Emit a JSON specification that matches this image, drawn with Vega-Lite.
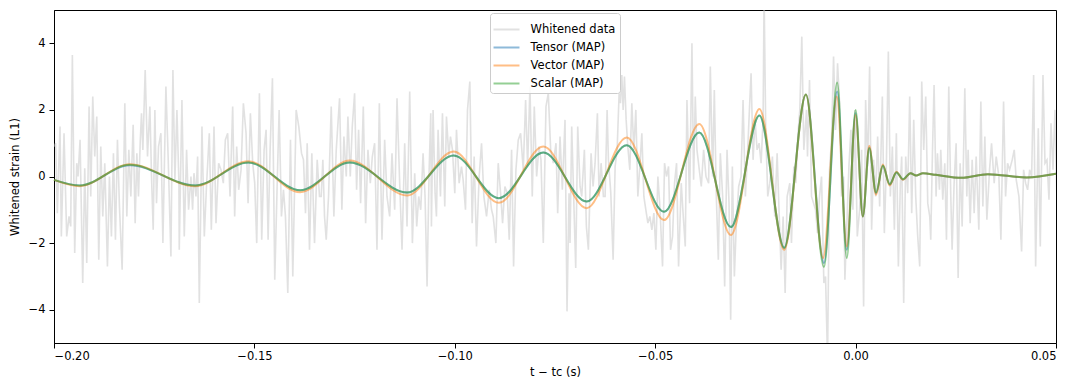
{
"$schema": "https://vega.github.io/schema/vega-lite/v6.json",
"width": 1002, "height": 333,
"autosize": {"type": "none"},
"padding": {"left": 54, "top": 10, "right": 17, "bottom": 42},
"background": "white",
"config": {
 "view": {"stroke": "#000", "strokeWidth": 1},
 "font": "DejaVu Sans",
 "axis": {"grid": false, "domainColor": "#000", "tickColor": "#000", "tickSize": 5, "labelFont": "DejaVu Sans", "labelFontSize": 11.5, "labelColor": "#000", "titleFont": "DejaVu Sans", "titleFontSize": 11.5, "titleFontWeight": "normal", "titleColor": "#000"},
 "legend": {"labelFont": "DejaVu Sans", "labelFontSize": 11.5, "labelColor": "#000"}
},
"datasets": {
 "noise": [
{"t":-0.2,"v":0.9},{"t":-0.19958,"v":1.0},{"t":-0.19917,"v":-1.1},{"t":-0.1985,"v":1.5},{"t":-0.19817,"v":-1.8},{"t":-0.1975,"v":1.3},{"t":-0.19683,"v":-1.8},{"t":-0.19625,"v":-1.2},{"t":-0.19583,"v":-1.5},{"t":-0.19542,"v":3.65},{"t":-0.19483,"v":-2.3},{"t":-0.19433,"v":0.4},{"t":-0.194,"v":0.0},{"t":-0.1935,"v":1.1},{"t":-0.19283,"v":-3.2},{"t":-0.19233,"v":0.25},{"t":-0.19183,"v":-2.6},{"t":-0.19125,"v":2.1},{"t":-0.19083,"v":-0.6},{"t":-0.19033,"v":2.4},{"t":-0.18983,"v":0.6},{"t":-0.18933,"v":1.8},{"t":-0.18883,"v":-2.5},{"t":-0.18833,"v":0.9},{"t":-0.18783,"v":-1.2},{"t":-0.18733,"v":0.4},{"t":-0.18667,"v":-2.7},{"t":-0.18617,"v":0.0},{"t":-0.18567,"v":-1.8},{"t":-0.18517,"v":0.7},{"t":-0.18467,"v":-1.9},{"t":-0.18417,"v":1.1},{"t":-0.18367,"v":-0.9},{"t":-0.183,"v":-2.8},{"t":-0.18233,"v":2.2},{"t":-0.18183,"v":-1.2},{"t":-0.18133,"v":0.8},{"t":-0.18083,"v":-0.6},{"t":-0.18025,"v":1.55},{"t":-0.17975,"v":-1.4},{"t":-0.17933,"v":0.7},{"t":-0.17892,"v":-0.6},{"t":-0.1785,"v":1.0},{"t":-0.17817,"v":1.9},{"t":-0.17783,"v":0.8},{"t":-0.17725,"v":3.2},{"t":-0.17667,"v":0.6},{"t":-0.17608,"v":2.1},{"t":-0.17567,"v":0.0},{"t":-0.17525,"v":-1.6},{"t":-0.17483,"v":2.0},{"t":-0.17442,"v":-0.8},{"t":-0.17392,"v":0.9},{"t":-0.17333,"v":1.3},{"t":-0.17283,"v":-2.0},{"t":-0.17208,"v":2.7},{"t":-0.1715,"v":0.5},{"t":-0.17083,"v":-2.4},{"t":-0.17033,"v":3.2},{"t":-0.16983,"v":-0.1},{"t":-0.16933,"v":2.0},{"t":-0.16883,"v":-0.2},
{"t":-0.16875,"v":-2.2},{"t":-0.16808,"v":2.3},{"t":-0.1675,"v":-1.8},{"t":-0.16692,"v":0.8},{"t":-0.16642,"v":-1.0},{"t":-0.16583,"v":0.0},{"t":-0.16542,"v":-1.0},{"t":-0.16508,"v":0.1},{"t":-0.16458,"v":-0.6},{"t":-0.16417,"v":0.6},{"t":-0.16375,"v":-3.8},{"t":-0.16308,"v":1.5},{"t":-0.1625,"v":-1.8},{"t":-0.16192,"v":-0.2},{"t":-0.16125,"v":1.3},{"t":-0.16075,"v":-1.6},{"t":-0.16008,"v":1.5},{"t":-0.15958,"v":-1.4},{"t":-0.15892,"v":0.4},{"t":-0.15833,"v":0.2},{"t":-0.15775,"v":-0.2},{"t":-0.15725,"v":1.1},{"t":-0.15667,"v":1.3},{"t":-0.15608,"v":-0.6},{"t":-0.15542,"v":2.1},{"t":-0.15492,"v":-1.2},{"t":-0.15442,"v":0.9},{"t":-0.15392,"v":-0.4},{"t":-0.15333,"v":0.2},{"t":-0.15275,"v":2.2},{"t":-0.15208,"v":1.3},{"t":-0.15158,"v":-0.8},{"t":-0.151,"v":1.9},{"t":-0.15042,"v":0.4},{"t":-0.14992,"v":-0.2},{"t":-0.14942,"v":-2.0},{"t":-0.14875,"v":2.5},{"t":-0.14817,"v":-1.9},{"t":-0.14758,"v":0.8},{"t":-0.14708,"v":1.4},{"t":-0.14658,"v":-1.9},{"t":-0.14608,"v":0.8},{"t":-0.1455,"v":2.95},{"t":-0.14492,"v":-3.1},{"t":-0.14433,"v":-0.3},{"t":-0.14383,"v":2.0},{"t":-0.14325,"v":-1.2},{"t":-0.14275,"v":-0.4},{"t":-0.14225,"v":-1.2},{"t":-0.14167,"v":-3.5},{"t":-0.141,"v":1.1},{"t":-0.14042,"v":-3.0},{"t":-0.13958,"v":2.0},{"t":-0.13892,"v":1.5},{"t":-0.13825,"v":0.7},{"t":-0.13775,"v":0.5},{"t":-0.13725,"v":-1.1},
{"t":-0.13683,"v":1.0},{"t":-0.13625,"v":-2.2},{"t":-0.13567,"v":0.7},{"t":-0.135,"v":-2.0},{"t":-0.13433,"v":0.5},{"t":-0.13375,"v":-0.6},{"t":-0.13333,"v":-0.6},{"t":-0.13292,"v":0.5},{"t":-0.1325,"v":-1.2},{"t":-0.13208,"v":-1.9},{"t":-0.1315,"v":-0.6},{"t":-0.13083,"v":2.1},{"t":-0.13017,"v":-1.2},{"t":-0.12958,"v":0.8},{"t":-0.12875,"v":2.35},{"t":-0.12817,"v":-1.0},{"t":-0.12767,"v":1.2},{"t":-0.12708,"v":0.0},{"t":-0.12667,"v":1.8},{"t":-0.12608,"v":0.0},{"t":-0.12558,"v":1.5},{"t":-0.125,"v":2.5},{"t":-0.1245,"v":-0.4},{"t":-0.124,"v":1.4},{"t":-0.1235,"v":-0.8},{"t":-0.12283,"v":2.1},{"t":-0.12225,"v":-1.4},{"t":-0.12167,"v":0.8},{"t":-0.12108,"v":-0.2},{"t":-0.12058,"v":0.6},{"t":-0.12,"v":1.0},{"t":-0.11942,"v":-2.2},{"t":-0.11883,"v":2.2},{"t":-0.11817,"v":-1.9},{"t":-0.1175,"v":1.1},{"t":-0.11692,"v":-0.6},{"t":-0.11625,"v":-1.2},{"t":-0.11567,"v":0.7},{"t":-0.115,"v":-1.0},{"t":-0.11442,"v":2.35},{"t":-0.11375,"v":-0.2},{"t":-0.11317,"v":-2.2},{"t":-0.1125,"v":1.0},{"t":-0.11192,"v":-1.5},{"t":-0.11125,"v":2.55},{"t":-0.11058,"v":-2.0},{"t":-0.11,"v":0.1},{"t":-0.1095,"v":-1.5},{"t":-0.109,"v":-0.6},{"t":-0.1085,"v":-1.0},{"t":-0.10792,"v":0.7},{"t":-0.10742,"v":-0.6},{"t":-0.10692,"v":-3.3},{"t":-0.10642,"v":0.1},{"t":-0.106,"v":1.9},
{"t":-0.10583,"v":-1.5},{"t":-0.10542,"v":2.0},{"t":-0.10492,"v":-0.5},{"t":-0.10458,"v":-1.2},{"t":-0.10417,"v":1.4},{"t":-0.10358,"v":-0.6},{"t":-0.10308,"v":1.9},{"t":-0.1025,"v":-0.9},{"t":-0.10208,"v":1.8},{"t":-0.1015,"v":0.6},{"t":-0.10108,"v":1.2},{"t":-0.10058,"v":0.8},{"t":-0.1,"v":-0.5},{"t":-0.09958,"v":1.4},{"t":-0.09892,"v":-0.2},{"t":-0.09833,"v":0.3},{"t":-0.09792,"v":-0.1},{"t":-0.09733,"v":-1.0},{"t":-0.09683,"v":2.0},{"t":-0.09625,"v":2.85},{"t":-0.09567,"v":-1.4},{"t":-0.09517,"v":0.6},{"t":-0.09458,"v":-2.1},{"t":-0.09392,"v":0.0},{"t":-0.09333,"v":1.0},{"t":-0.09275,"v":-0.6},{"t":-0.09208,"v":-1.2},{"t":-0.09142,"v":-0.4},{"t":-0.09083,"v":-1.0},{"t":-0.09042,"v":-1.2},{"t":-0.08975,"v":-2.0},{"t":-0.08917,"v":0.4},{"t":-0.08858,"v":-0.5},{"t":-0.08808,"v":-1.4},{"t":-0.0875,"v":-0.3},{"t":-0.08692,"v":-0.5},{"t":-0.08642,"v":-1.9},{"t":-0.08583,"v":0.8},{"t":-0.08533,"v":-2.7},{"t":-0.08475,"v":0.2},{"t":-0.08417,"v":1.1},{"t":-0.08358,"v":1.3},{"t":-0.08292,"v":0.2},{"t":-0.08233,"v":2.3},{"t":-0.08183,"v":0.3},{"t":-0.08125,"v":2.7},{"t":-0.08067,"v":-0.6},{"t":-0.08017,"v":2.1},{"t":-0.07958,"v":0.0},{"t":-0.079,"v":0.9},{"t":-0.0785,"v":0.5},{"t":-0.07792,"v":-2.0},{"t":-0.07725,"v":2.1},{"t":-0.07667,"v":2.5},{"t":-0.07608,"v":0.8},{"t":-0.07542,"v":0.4},{"t":-0.07475,"v":1.0},
{"t":-0.07433,"v":-1.1},{"t":-0.07375,"v":1.2},{"t":-0.07317,"v":-0.4},{"t":-0.0725,"v":1.7},{"t":-0.072,"v":-4.05},{"t":-0.0715,"v":-0.5},{"t":-0.07125,"v":-2.0},{"t":-0.07083,"v":1.5},{"t":-0.07025,"v":-1.0},{"t":-0.06983,"v":-2.75},{"t":-0.06933,"v":1.5},{"t":-0.06875,"v":-0.3},{"t":-0.06833,"v":-0.6},{"t":-0.06767,"v":0.8},{"t":-0.06717,"v":-1.5},{"t":-0.06667,"v":-2.2},{"t":-0.066,"v":0.7},{"t":-0.0655,"v":-0.3},{"t":-0.065,"v":0.4},{"t":-0.06442,"v":1.9},{"t":-0.064,"v":-0.6},{"t":-0.0635,"v":0.4},{"t":-0.06292,"v":-0.6},{"t":-0.0625,"v":-0.6},{"t":-0.062,"v":2.0},{"t":-0.06167,"v":0.5},{"t":-0.06108,"v":-0.5},{"t":-0.0605,"v":-2.5},{"t":-0.06,"v":0.3},{"t":-0.0595,"v":0.8},{"t":-0.059,"v":2.5},{"t":-0.05867,"v":2.2},{"t":-0.05833,"v":3.05},{"t":-0.058,"v":2.0},{"t":-0.05767,"v":3.0},{"t":-0.05725,"v":1.7},{"t":-0.05683,"v":0.9},{"t":-0.05633,"v":0.2},{"t":-0.05583,"v":2.2},{"t":-0.05533,"v":0.8},{"t":-0.05483,"v":2.0},{"t":-0.05433,"v":-0.6},{"t":-0.05383,"v":0.3},{"t":-0.05333,"v":1.3},{"t":-0.05283,"v":-0.6},{"t":-0.05233,"v":-1.0},{"t":-0.05183,"v":-1.4},{"t":-0.05133,"v":-1.2},{"t":-0.05083,"v":-1.6},{"t":-0.05033,"v":-1.1},{"t":-0.04983,"v":-2.2},{"t":-0.04933,"v":0.0},{"t":-0.04883,"v":-0.9},{"t":-0.04817,"v":-2.7},{"t":-0.04767,"v":0.4},{"t":-0.04717,"v":0.0},{"t":-0.04667,"v":0.3},{"t":-0.04617,"v":-2.2},{"t":-0.04567,"v":-1.8},{"t":-0.04517,"v":-0.2},{"t":-0.04467,"v":0.4},{"t":-0.04417,"v":-2.7},{"t":-0.0435,"v":-0.2},
{"t":-0.0431,"v":-1.0},{"t":-0.0425,"v":-2.1},{"t":-0.04208,"v":2.3},{"t":-0.04142,"v":-0.8},{"t":-0.04083,"v":4.0},{"t":-0.04042,"v":-0.1},{"t":-0.04,"v":2.4},{"t":-0.03958,"v":0.8},{"t":-0.039,"v":0.2},{"t":-0.0385,"v":-0.3},{"t":-0.03792,"v":0.8},{"t":-0.03733,"v":0.0},{"t":-0.03667,"v":-0.2},{"t":-0.03625,"v":3.3},{"t":-0.03567,"v":0.0},{"t":-0.03525,"v":2.6},{"t":-0.03475,"v":-0.6},{"t":-0.03425,"v":-2.5},{"t":-0.03375,"v":0.7},{"t":-0.03317,"v":-0.6},{"t":-0.03267,"v":-3.3},{"t":-0.03208,"v":0.8},{"t":-0.03158,"v":-0.8},{"t":-0.03117,"v":-4.3},{"t":-0.03075,"v":0.3},{"t":-0.03025,"v":-3.0},{"t":-0.02975,"v":-1.4},{"t":-0.02917,"v":-0.3},{"t":-0.02858,"v":0.0},{"t":-0.02808,"v":2.3},{"t":-0.0275,"v":-0.6},{"t":-0.02692,"v":0.8},{"t":-0.02642,"v":2.2},{"t":-0.02608,"v":3.1},{"t":-0.02558,"v":0.5},{"t":-0.02508,"v":1.7},{"t":-0.02458,"v":0.8},{"t":-0.02408,"v":1.0},{"t":-0.02358,"v":0.4},{"t":-0.02308,"v":1.7},{"t":-0.02283,"v":5.5},{"t":-0.02242,"v":1.4},{"t":-0.02192,"v":-0.6},{"t":-0.02142,"v":-0.2},{"t":-0.02075,"v":0.6},{"t":-0.02017,"v":-1.2},{"t":-0.01958,"v":0.7},{"t":-0.01908,"v":-1.1},{"t":-0.01858,"v":-2.8},{"t":-0.01808,"v":-1.2},{"t":-0.01758,"v":-3.5},{"t":-0.01708,"v":-0.6},{"t":-0.01642,"v":-0.2},{"t":-0.016,"v":-2.0},{"t":-0.01542,"v":0.3},{"t":-0.01492,"v":-0.2},{"t":-0.01442,"v":1.2},{"t":-0.01392,"v":2.0},{"t":-0.01342,"v":4.2},{"t":-0.01292,"v":0.8},{"t":-0.01225,"v":2.0},
{"t":-0.012,"v":0.6},{"t":-0.0115,"v":2.9},{"t":-0.011,"v":-0.6},{"t":-0.0105,"v":-0.8},{"t":-0.01,"v":-1.0},{"t":-0.0095,"v":-1.7},{"t":-0.009,"v":-0.6},{"t":-0.0085,"v":0.0},{"t":-0.00792,"v":-3.2},{"t":-0.0075,"v":-3.0},{"t":-0.007,"v":-5.5},{"t":-0.0065,"v":0.2},{"t":-0.006,"v":1.1},{"t":-0.0055,"v":3.6},{"t":-0.005,"v":1.4},{"t":-0.0045,"v":3.4},{"t":-0.004,"v":2.2},{"t":-0.0035,"v":-0.6},{"t":-0.003,"v":0.0},{"t":-0.00267,"v":-3.1},{"t":-0.00217,"v":-1.4},{"t":-0.00167,"v":0.3},{"t":-0.00117,"v":1.4},{"t":-0.00067,"v":-1.0},{"t":-0.00017,"v":2.0},{"t":0.00042,"v":-1.8},{"t":0.001,"v":-1.0},{"t":0.0015,"v":0.8},{"t":0.002,"v":-3.9},{"t":0.0025,"v":2.3},{"t":0.003,"v":0.3},{"t":0.0035,"v":3.3},{"t":0.004,"v":-1.6},{"t":0.0045,"v":0.5},{"t":0.005,"v":-0.6},{"t":0.0055,"v":1.2},{"t":0.006,"v":-0.9},{"t":0.00667,"v":2.4},{"t":0.00717,"v":-1.7},{"t":0.00767,"v":0.3},{"t":0.00817,"v":3.75},{"t":0.00867,"v":-0.6},{"t":0.00917,"v":0.9},{"t":0.00967,"v":-1.6},{"t":0.01017,"v":1.3},{"t":0.01067,"v":-2.7},{"t":0.01117,"v":-0.2},{"t":0.0115,"v":0.6},{"t":0.012,"v":-3.8},{"t":0.0125,"v":0.6},{"t":0.013,"v":-0.5},{"t":0.0135,"v":2.4},{"t":0.014,"v":-1.1},{"t":0.0145,"v":1.7},{"t":0.015,"v":-0.6},{"t":0.0155,"v":-1.8},{"t":0.016,"v":-2.7},{"t":0.0165,"v":2.85},{"t":0.017,"v":0.8},{"t":0.0175,"v":2.4},{"t":0.018,"v":-0.8},{"t":0.0185,"v":-1.2},
{"t":0.01875,"v":-1.9},{"t":0.01917,"v":0.7},{"t":0.01958,"v":2.75},{"t":0.02008,"v":-0.6},{"t":0.02042,"v":0.7},{"t":0.02092,"v":-0.4},{"t":0.02125,"v":0.8},{"t":0.02175,"v":-0.7},{"t":0.02225,"v":0.4},{"t":0.02267,"v":-1.9},{"t":0.02325,"v":2.7},{"t":0.02375,"v":-0.6},{"t":0.02408,"v":-2.2},{"t":0.02458,"v":-0.2},{"t":0.02508,"v":1.0},{"t":0.02558,"v":-3.05},{"t":0.02608,"v":0.4},{"t":0.02658,"v":-1.5},{"t":0.02725,"v":2.65},{"t":0.02775,"v":-0.6},{"t":0.02808,"v":0.8},{"t":0.02858,"v":-1.4},{"t":0.02908,"v":0.5},{"t":0.02958,"v":-1.1},{"t":0.03008,"v":0.6},{"t":0.03075,"v":-1.6},{"t":0.03125,"v":2.25},{"t":0.03175,"v":-0.9},{"t":0.03225,"v":1.2},{"t":0.03275,"v":-1.3},{"t":0.03342,"v":0.2},{"t":0.03392,"v":1.0},{"t":0.03458,"v":-0.2},{"t":0.03508,"v":0.6},{"t":0.03575,"v":0.0},{"t":0.03625,"v":-1.9},{"t":0.03692,"v":2.25},{"t":0.03742,"v":-0.6},{"t":0.03792,"v":0.4},{"t":0.03842,"v":0.2},{"t":0.03908,"v":0.5},{"t":0.03958,"v":0.8},{"t":0.04008,"v":-0.1},{"t":0.04075,"v":-0.6},{"t":0.04142,"v":-2.25},{"t":0.04192,"v":0.2},{"t":0.04242,"v":-0.2},{"t":0.04292,"v":-0.4},{"t":0.04342,"v":0.2},{"t":0.04392,"v":0.0},{"t":0.04442,"v":3.05},{"t":0.04492,"v":-2.7},{"t":0.04558,"v":1.45},{"t":0.04608,"v":-2.1},{"t":0.04675,"v":3.05},{"t":0.04725,"v":0.4},{"t":0.04775,"v":0.5},{"t":0.04825,"v":-0.7},{"t":0.04875,"v":1.6},{"t":0.04925,"v":0.2},{"t":0.04975,"v":2.0},{"t":0.05025,"v":-0.8}
 ],
 "tensor": [
{"t":-0.2,"v":-0.1},{"t":-0.1936,"v":-0.27},{"t":-0.1811,"v":0.34},{"t":-0.1648,"v":-0.27},{"t":-0.1515,"v":0.42},{"t":-0.1386,"v":-0.41},{"t":-0.1262,"v":0.42},{"t":-0.1119,"v":-0.48},{"t":-0.1003,"v":0.63},{"t":-0.089,"v":-0.65},{"t":-0.0779,"v":0.72},{"t":-0.0671,"v":-0.75},{"t":-0.0571,"v":0.94},{"t":-0.0478,"v":-1.06},{"t":-0.039,"v":1.32},{"t":-0.0311,"v":-1.52},{"t":-0.024,"v":1.83},{"t":-0.0178,"v":-2.14},{"t":-0.0124,"v":2.46},{"t":-0.0079,"v":-2.6},{"t":-0.0046,"v":2.55},{"t":-0.0022,"v":-2.2},{"t":0.0,"v":1.9},{"t":0.0018,"v":-1.2},{"t":0.0034,"v":0.87},{"t":0.0051,"v":-0.5},{"t":0.0068,"v":0.33},{"t":0.0085,"v":-0.24},{"t":0.0102,"v":0.13},{"t":0.0118,"v":-0.09},{"t":0.0137,"v":0.1},{"t":0.0151,"v":0.03},{"t":0.0168,"v":0.1},{"t":0.02,"v":0.05},{"t":0.0264,"v":-0.04},{"t":0.033,"v":0.07},{"t":0.0427,"v":-0.03},{"t":0.05,"v":0.08}
 ],
 "vector": [
{"t":-0.2,"v":-0.1},{"t":-0.1936,"v":-0.29},{"t":-0.1811,"v":0.37},{"t":-0.1648,"v":-0.29},{"t":-0.1515,"v":0.46},{"t":-0.1386,"v":-0.47},{"t":-0.1262,"v":0.48},{"t":-0.1119,"v":-0.57},{"t":-0.1003,"v":0.75},{"t":-0.089,"v":-0.79},{"t":-0.0779,"v":0.9},{"t":-0.0671,"v":-0.95},{"t":-0.0571,"v":1.17},{"t":-0.0478,"v":-1.31},{"t":-0.039,"v":1.58},{"t":-0.0311,"v":-1.76},{"t":-0.024,"v":2.03},{"t":-0.0178,"v":-2.2},{"t":-0.0124,"v":2.46},{"t":-0.0081,"v":-2.45},{"t":-0.0047,"v":2.4},{"t":-0.0022,"v":-2.1},{"t":0.0,"v":1.85},{"t":0.0018,"v":-1.2},{"t":0.0034,"v":0.92},{"t":0.0051,"v":-0.55},{"t":0.0068,"v":0.36},{"t":0.0085,"v":-0.27},{"t":0.0102,"v":0.14},{"t":0.0118,"v":-0.1},{"t":0.0137,"v":0.1},{"t":0.0151,"v":0.03},{"t":0.0168,"v":0.1},{"t":0.02,"v":0.05},{"t":0.0264,"v":-0.04},{"t":0.033,"v":0.07},{"t":0.0427,"v":-0.03},{"t":0.05,"v":0.08}
 ],
 "scalar": [
{"t":-0.2,"v":-0.1},{"t":-0.1936,"v":-0.27},{"t":-0.1811,"v":0.35},{"t":-0.1648,"v":-0.27},{"t":-0.1515,"v":0.42},{"t":-0.1386,"v":-0.41},{"t":-0.1262,"v":0.42},{"t":-0.1119,"v":-0.48},{"t":-0.1003,"v":0.63},{"t":-0.089,"v":-0.65},{"t":-0.0779,"v":0.72},{"t":-0.0671,"v":-0.75},{"t":-0.0571,"v":0.94},{"t":-0.0478,"v":-1.06},{"t":-0.039,"v":1.32},{"t":-0.0311,"v":-1.52},{"t":-0.024,"v":1.83},{"t":-0.0178,"v":-2.14},{"t":-0.0124,"v":2.46},{"t":-0.0079,"v":-2.72},{"t":-0.0046,"v":2.82},{"t":-0.0022,"v":-2.45},{"t":0.0,"v":2.0},{"t":0.0018,"v":-1.2},{"t":0.0034,"v":0.85},{"t":0.0051,"v":-0.48},{"t":0.0068,"v":0.32},{"t":0.0085,"v":-0.23},{"t":0.0102,"v":0.12},{"t":0.0118,"v":-0.08},{"t":0.0137,"v":0.1},{"t":0.0151,"v":0.03},{"t":0.0168,"v":0.1},{"t":0.02,"v":0.05},{"t":0.0264,"v":-0.04},{"t":0.033,"v":0.07},{"t":0.0427,"v":-0.03},{"t":0.05,"v":0.08}
 ]
},
"encoding": {
 "x": {"field": "t", "type": "quantitative", "scale": {"domain": [-0.2, 0.05], "nice": false, "zero": false},
  "axis": {"values": [-0.2, -0.15, -0.1, -0.05, 0, 0.05], "format": ".2f", "title": "t − tc (s)", "labelPadding": 2, "titlePadding": 5}},
 "y": {"field": "v", "type": "quantitative", "scale": {"domain": [-5, 5], "nice": false},
  "axis": {"values": [-4, -2, 0, 2, 4], "format": "d", "title": "Whitened strain (L1)", "labelPadding": 4, "titlePadding": 8}}
},
"layer": [
 {"data": {"name": "noise"},
  "mark": {"type": "line", "clip": true, "strokeWidth": 1.6, "opacity": 0.5},
  "encoding": {"color": {"datum": "Whitened data", "type": "nominal",
    "scale": {"domain": ["Whitened data", "Tensor (MAP)", "Vector (MAP)", "Scalar (MAP)"], "range": ["#c4c4c4", "#1f77b4", "#ff7f0e", "#2ca02c"]},
    "legend": {"title": null, "orient": "none", "legendX": 436, "legendY": 3, "padding": 4, "fillColor": "rgba(255,255,255,0.85)", "strokeColor": "#cccccc", "cornerRadius": 3, "symbolType": "M-1.16,0H1.16", "symbolSize": 500, "symbolStrokeWidth": 2, "symbolOpacity": 0.5, "labelOffset": 11.6, "rowPadding": 0}}}},
 {"data": {"name": "tensor"},
  "mark": {"type": "line", "interpolate": "monotone", "strokeWidth": 2, "opacity": 0.5},
  "encoding": {"color": {"datum": "Tensor (MAP)", "type": "nominal"}}},
 {"data": {"name": "vector"},
  "mark": {"type": "line", "interpolate": "monotone", "strokeWidth": 2, "opacity": 0.5},
  "encoding": {"color": {"datum": "Vector (MAP)", "type": "nominal"}}},
 {"data": {"name": "scalar"},
  "mark": {"type": "line", "interpolate": "monotone", "strokeWidth": 2, "opacity": 0.5},
  "encoding": {"color": {"datum": "Scalar (MAP)", "type": "nominal"}}}
]
}
